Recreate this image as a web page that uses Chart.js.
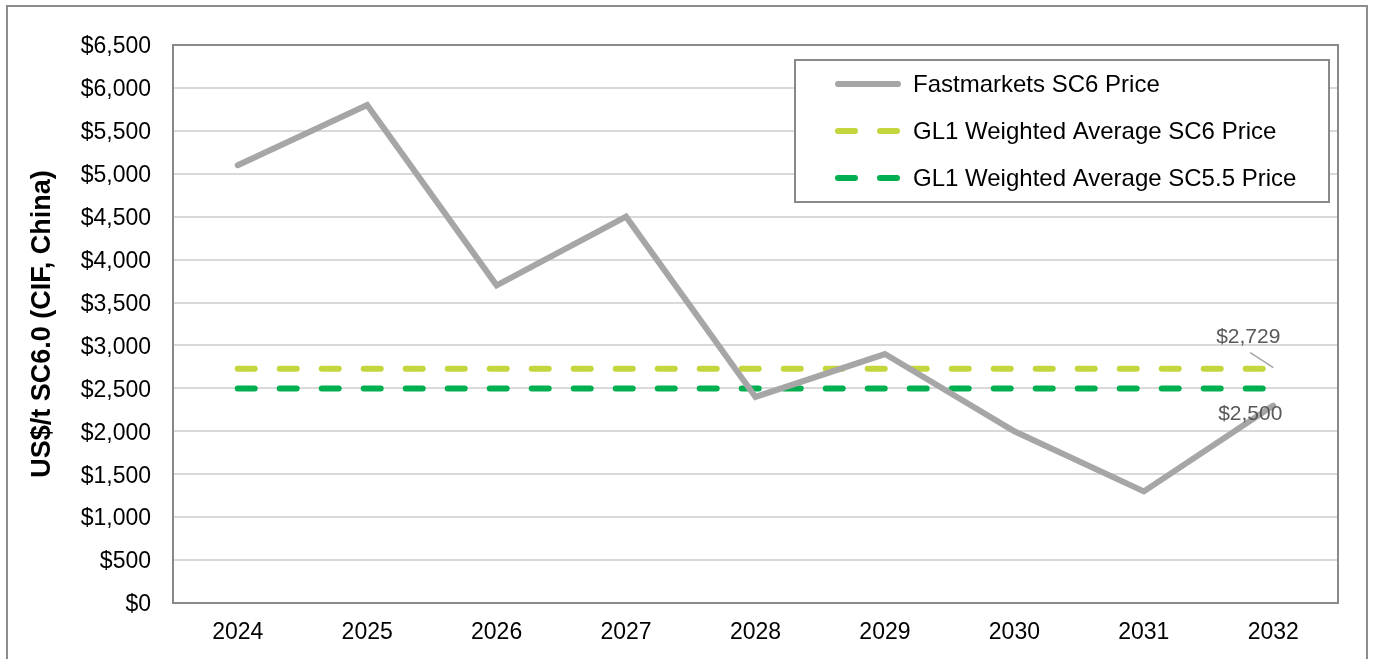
<!DOCTYPE html>
<html>
<head>
<meta charset="utf-8">
<script src="https://cdn.jsdelivr.net/npm/chart.js@4"></script>
<style>
  body { margin: 0; background: #fff; }
  canvas { display: block; }
</style>
</head>
<body>
<canvas id="chart" width="1373" height="659"></canvas>
<script>
const years = ["2024", "2025", "2026", "2027", "2028", "2029", "2030", "2031", "2032"];
const fastmarketsSC6 = [5100, 5800, 3700, 4500, 2400, 2900, 2000, 1300, 2300];
const gl1SC6 = [2729, 2729, 2729, 2729, 2729, 2729, 2729, 2729, 2729];
const gl1SC55 = [2500, 2500, 2500, 2500, 2500, 2500, 2500, 2500, 2500];
const seriesNames = ["Fastmarkets SC6 Price", "GL1 Weighted Average SC6 Price", "GL1 Weighted Average SC5.5 Price"];
const yTitle = "US$/t SC6.0 (CIF, China)";

const FONT = "'Liberation Sans', Arial, sans-serif";

function money(v) {
  return "$" + Number(v).toLocaleString("en-US");
}

// outer frame, plot frame, legend box and end-of-line value labels
const decorations = {
  id: "decorations",
  beforeDraw(chart) {
    const ctx = chart.ctx;
    ctx.save();
    ctx.fillStyle = "#fff";
    ctx.fillRect(0, 0, chart.width, chart.height);
    ctx.strokeStyle = "#8c8c8c";
    ctx.lineWidth = 2;
    ctx.strokeRect(7, 6, 1360, 700);
    ctx.restore();
  },
  afterDatasetsDraw(chart) {
    const ctx = chart.ctx;
    const a = chart.chartArea;
    ctx.save();
    ctx.strokeStyle = "#898989";
    ctx.lineWidth = 2;
    ctx.strokeRect(a.left, a.top, a.right - a.left, a.bottom - a.top);

    // value labels at the last category
    const xs = chart.scales.x, ys = chart.scales.y;
    const last = years.length - 1;
    const px = xs.getPixelForValue(last);
    ctx.font = "21px " + FONT;
    ctx.fillStyle = "#595959";
    ctx.textAlign = "center";
    ctx.textBaseline = "middle";
    const p1 = ys.getPixelForValue(gl1SC6[last]);
    ctx.fillText(money(gl1SC6[last]), px - 25, p1 - 32);
    ctx.strokeStyle = "#a6a6a6";
    ctx.lineWidth = 1.5;
    ctx.beginPath();
    ctx.moveTo(px - 23, p1 - 16);
    ctx.lineTo(px, p1 - 1);
    ctx.stroke();
    const p2 = ys.getPixelForValue(gl1SC55[last]);
    ctx.fillText(money(gl1SC55[last]), px - 23, p2 + 26);

    // legend box
    const lx = 795, ly = 60, lw = 534, lh = 142;
    ctx.fillStyle = "#fff";
    ctx.fillRect(lx, ly, lw, lh);
    ctx.strokeStyle = "#898989";
    ctx.lineWidth = 2;
    ctx.strokeRect(lx, ly, lw, lh);
    ctx.font = "24px " + FONT;
    ctx.textAlign = "left";
    chart.data.datasets.forEach((ds, i) => {
      const y = 84 + i * 47;
      ctx.strokeStyle = ds.borderColor;
      ctx.lineWidth = ds.borderWidth;
      ctx.lineCap = "round";
      ctx.setLineDash(ds.borderDash || []);
      ctx.beginPath();
      ctx.moveTo(838, y);
      ctx.lineTo(898, y);
      ctx.stroke();
      ctx.setLineDash([]);
      ctx.fillStyle = "#000";
      ctx.fillText(ds.label, 913, y + 1);
    });
    ctx.restore();
  }
};

new Chart(document.getElementById("chart"), {
  type: "line",
  data: {
    labels: years,
    datasets: [
      {
        label: seriesNames[0],
        data: fastmarketsSC6,
        borderColor: "#a6a6a6",
        borderWidth: 6,
        pointRadius: 0,
        tension: 0,
        borderCapStyle: "round",
        borderJoinStyle: "miter"
      },
      {
        label: seriesNames[1],
        data: gl1SC6,
        borderColor: "#c4d63c",
        borderWidth: 6,
        borderDash: [17, 25],
        borderCapStyle: "round",
        pointRadius: 0
      },
      {
        label: seriesNames[2],
        data: gl1SC55,
        borderColor: "#00b050",
        borderWidth: 6,
        borderDash: [17, 25],
        borderCapStyle: "round",
        pointRadius: 0
      }
    ]
  },
  options: {
    responsive: false,
    animation: false,
    layout: { padding: { left: 0, top: 45, right: 35, bottom: 0 } },
    plugins: {
      legend: { display: false },
      tooltip: { enabled: false }
    },
    scales: {
      x: {
        offset: true,
        grid: { display: false, drawTicks: false },
        border: { display: false },
        ticks: { color: "#000", font: { family: FONT, size: 23 }, padding: 16, maxRotation: 0 },
        afterFit(scale) { scale.height = 56; }
      },
      y: {
        min: 0,
        max: 6500,
        grid: { color: "#d9d9d9", lineWidth: 2, drawTicks: false },
        border: { display: false },
        ticks: {
          stepSize: 500,
          color: "#000",
          font: { family: FONT, size: 23 },
          padding: 22,
          labelOffset: 2,
          callback: (v) => money(v)
        },
        title: {
          display: true,
          text: yTitle,
          color: "#000",
          font: { family: FONT, size: 27, weight: "bold" },
          padding: { top: 26, bottom: 0 }
        },
        afterFit(scale) { scale.width = 173; }
      }
    }
  },
  plugins: [decorations]
});
</script>
</body>
</html>
